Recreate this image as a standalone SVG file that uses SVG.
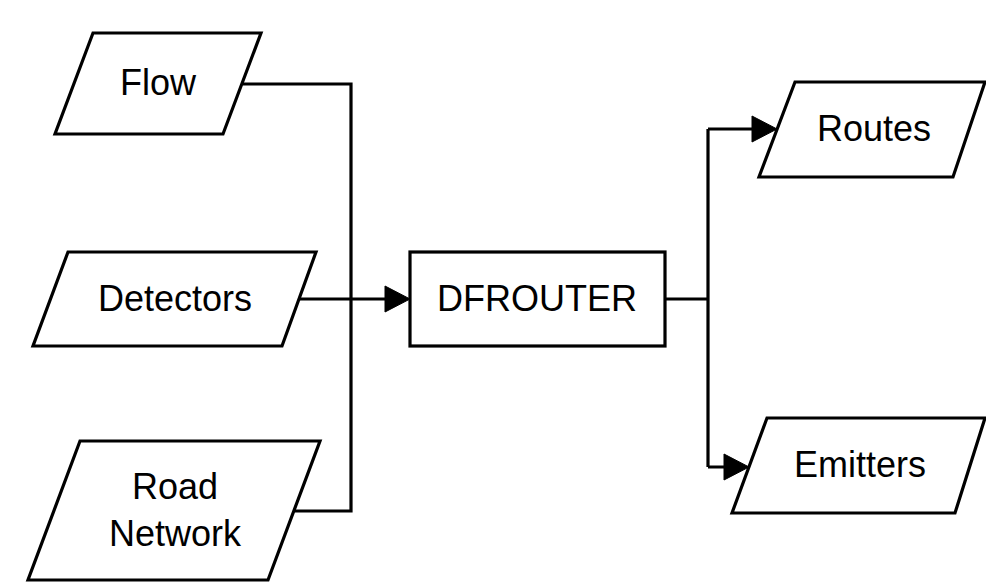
<svg xmlns="http://www.w3.org/2000/svg" width="986" height="585" viewBox="0 0 986 585">
<style>
.shape{fill:#fff;stroke:#000;stroke-width:3.2;stroke-linejoin:miter}
.lbl{font-family:"Liberation Sans",Arial,sans-serif;font-size:36px;fill:#000;text-anchor:middle}
.wire{fill:none;stroke:#000;stroke-width:3.2;stroke-linejoin:miter}
.head{fill:#000;stroke:#000;stroke-width:1}
</style>
<rect width="986" height="585" fill="#fff"/>
<g id="connectors">
  <path class="wire" d="M243,84 H351 V511 H295"/>
  <path class="wire" d="M300,299 H388"/>
  <polygon class="head" points="410,299 385,286 385,312"/>
  <path class="wire" d="M665,299 H708 M708,129 V467 M708,129 H755 M708,467 H726"/>
  <polygon class="head" points="777,129 752,116 752,142"/>
  <polygon class="head" points="749,467 724,454 724,480"/>
</g>
<g id="flow">
  <polygon class="shape" points="93,33 261,33 223,134 55,134"/>
  <text class="lbl" x="158" y="95">Flow</text>
</g>
<g id="detectors">
  <polygon class="shape" points="68,252 316,252 282,346 33,346"/>
  <text class="lbl" x="175" y="311">Detectors</text>
</g>
<g id="road-network">
  <polygon class="shape" points="80,441 320,441 268,580 28,580"/>
  <text class="lbl" x="175" y="499">Road</text>
  <text class="lbl" x="175" y="546">Network</text>
</g>
<g id="dfrouter">
  <rect class="shape" x="410" y="252" width="255" height="94"/>
  <text class="lbl" x="537" y="311">DFROUTER</text>
</g>
<g id="routes">
  <polygon class="shape" points="795,82 985,82 953,177 759,177"/>
  <text class="lbl" x="874" y="141">Routes</text>
</g>
<g id="emitters">
  <polygon class="shape" points="767,418 985,418 955,513 732,513"/>
  <text class="lbl" x="860" y="477">Emitters</text>
</g>
</svg>
